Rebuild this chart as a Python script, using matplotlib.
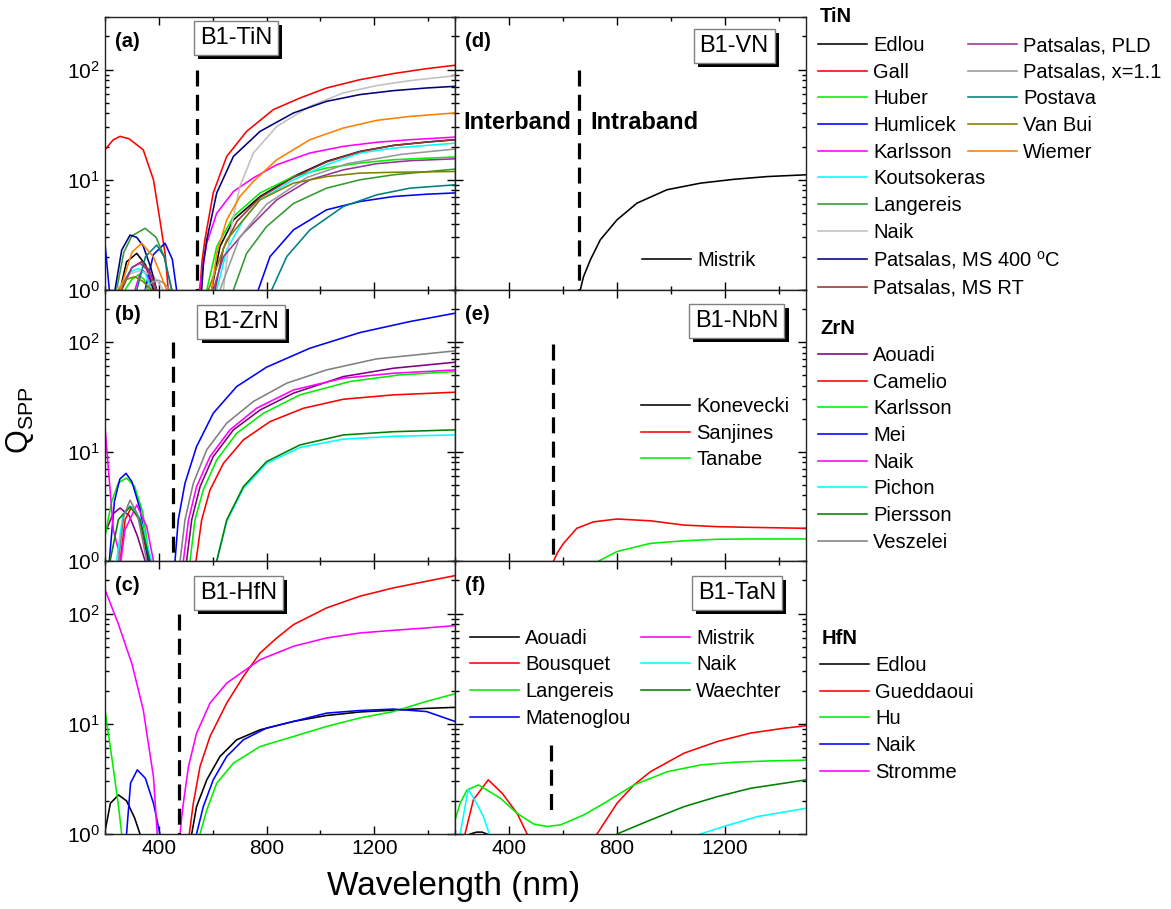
import matplotlib
matplotlib.use('Agg')
import matplotlib.pyplot as plt
import matplotlib.patheffects as pe
from matplotlib.ticker import MultipleLocator

plt.rcParams['font.family'] = ['Liberation Sans', 'DejaVu Sans']
plt.rcParams['mathtext.default'] = 'regular'

# ---------------- Panel (a): B1-TiN ----------------
a_edlou_wl = [256, 280, 318, 350, 380, 480, 596, 627, 677, 776, 900, 1023, 1147, 1271, 1395, 1500]
a_edlou_q = [1, 1.8, 2.15, 1.7, 1, 0.3, 1, 2.48, 4.33, 7.05, 10.7, 14.7, 18.1, 20.5, 22, 23.1]
a_gall_wl = [200, 230, 256, 290, 342, 380, 404, 423, 435, 490, 553, 560, 571, 602, 652, 726, 825, 924, 1023, 1147, 1271, 1395, 1500]
a_gall_q = [18.7, 23, 24.8, 23.5, 18.7, 10, 4.3, 2.15, 1.0, 0.3, 1.0, 1.8, 2.85, 7.6, 16.3, 27.5, 43.3, 55.2, 68.1, 81, 92, 102, 109.5]
a_huber_wl = [274, 300, 324, 345, 361, 470, 578, 615, 677, 776, 900, 1023, 1147, 1271, 1395, 1500]
a_huber_q = [1, 1.25, 1.37, 1.25, 1, 0.3, 1, 2.48, 4.64, 7.6, 10.7, 12.8, 14.2, 15.2, 15.7, 16.1]
a_humlicek_wl = [200, 216, 280, 349, 380, 423, 450, 466, 620, 769, 813, 900, 1023, 1147, 1271, 1395, 1500]
a_humlicek_q = [2.66, 1.0, 0.3, 1.0, 2.1, 2.66, 1.9, 1.0, 0.3, 1.0, 2.01, 3.51, 5.34, 6.35, 7.05, 7.4, 7.6]
a_karlsson_wl = [311, 330, 342, 355, 373, 460, 550, 578, 615, 677, 751, 838, 961, 1085, 1209, 1333, 1500]
a_karlsson_q = [1, 1.4, 1.5, 1.4, 1, 0.3, 1, 2.66, 4.98, 7.83, 10.4, 13.7, 17.5, 20.1, 21.9, 23.1, 24.4]
a_kouts_wl = [256, 290, 324, 350, 373, 500, 615, 652, 714, 776, 900, 1023, 1147, 1271, 1395, 1500]
a_kouts_q = [1, 1.45, 1.57, 1.4, 1, 0.3, 1, 2.31, 4.33, 6.58, 10, 13.7, 17.5, 19.4, 20.5, 21.5]
a_langereis_wl = [243, 270, 300, 349, 390, 420, 448, 560, 677, 726, 800, 900, 1023, 1147, 1271, 1500]
a_langereis_q = [1, 2.2, 3.1, 3.63, 3.0, 2.0, 1.0, 0.3, 1, 2.15, 3.76, 6.1, 8.4, 10, 11.1, 12.5]
a_naik_wl = [243, 290, 330, 380, 417, 530, 640, 664, 701, 751, 838, 961, 1085, 1209, 1333, 1500]
a_naik_q = [1, 1.4, 1.5, 1.35, 1, 0.3, 1, 3.27, 8.7, 17.5, 30.5, 46.4, 61.4, 71.6, 79.4, 88]
a_ms400_wl = [237, 262, 293, 318, 342, 370, 392, 480, 559, 566, 578, 615, 677, 776, 900, 1023, 1147, 1271, 1395, 1500]
a_ms400_q = [1, 2.3, 3.15, 3.0, 2.5, 1.6, 1.0, 0.3, 1, 1.8, 2.85, 7.6, 16.3, 27.5, 40.4, 51.5, 59.3, 64.4, 68.1, 70.5]
a_msrt_wl = [262, 300, 336, 365, 392, 500, 609, 640, 690, 776, 900, 1023, 1147, 1271, 1395, 1500]
a_msrt_q = [1, 1.6, 1.81, 1.5, 1, 0.3, 1, 2.4, 4.2, 6.9, 10.5, 14.5, 18, 20.5, 22, 23.1]
a_pld_wl = [256, 300, 330, 360, 386, 500, 602, 640, 714, 838, 961, 1085, 1209, 1333, 1500]
a_pld_q = [1, 1.6, 1.75, 1.5, 1, 0.3, 1, 2.01, 3.27, 6.58, 10, 12.3, 14.0, 14.9, 15.5]
a_x11_wl = [349, 375, 398, 420, 441, 530, 627, 700, 800, 950, 1100, 1300, 1500]
a_x11_q = [1, 1.18, 1.23, 1.15, 1, 0.3, 1, 3, 6, 10.5, 14, 17, 19]
a_postava_wl = [318, 350, 392, 420, 448, 630, 819, 875, 961, 1085, 1209, 1333, 1500]
a_postava_q = [1, 2.0, 2.56, 2.0, 1, 0.3, 1, 2.01, 3.51, 5.72, 7.3, 8.4, 9.0]
a_vanbui_wl = [250, 280, 311, 340, 373, 480, 584, 652, 776, 900, 1023, 1147, 1271, 1500]
a_vanbui_q = [1, 1.25, 1.32, 1.2, 1, 0.3, 1, 2.85, 6.58, 9.33, 10.7, 11.5, 11.7, 11.9]
a_wiemer_wl = [256, 300, 336, 380, 429, 510, 596, 615, 652, 701, 751, 838, 961, 1085, 1209, 1333, 1500]
a_wiemer_q = [1, 2.2, 2.66, 2.0, 1.0, 0.3, 1, 2.15, 4.33, 7.05, 9.66, 15.2, 23.1, 29.5, 34.6, 37.6, 40.4]

tin_labels = ['Edlou', 'Gall', 'Huber', 'Humlicek', 'Karlsson', 'Koutsokeras', 'Langereis', 'Naik',
              'Patsalas, MS 400 $^{o}$C', 'Patsalas, MS RT', 'Patsalas, PLD', 'Patsalas, x=1.1',
              'Postava', 'Van Bui', 'Wiemer']
tin_colors = ['#000000', '#ff0000', '#00ee00', '#0000ff', '#ff00ff', '#00ffff', '#339933', '#c0c0c0',
              '#000080', '#993333', '#993399', '#999999', '#008080', '#808000', '#ff8000']

# ---------------- Panel (b): B1-ZrN ----------------
b_aouadi_wl = [200, 230, 256, 290, 320, 349, 420, 503, 522, 553, 602, 677, 776, 900, 1085, 1271, 1500]
b_aouadi_q = [1.8, 2.7, 3.05, 2.6, 1.7, 1.0, 0.3, 1, 2.37, 4.78, 9.0, 15.8, 24.0, 34.2, 48.5, 57.8, 65.6]
b_camelio_wl = [256, 275, 299, 330, 361, 450, 538, 559, 590, 640, 714, 813, 937, 1085, 1271, 1500]
b_camelio_q = [1, 2.4, 3.13, 2.3, 1, 0.3, 1, 2.37, 4.46, 7.82, 12.8, 18.8, 24.9, 30.1, 33, 34.9]
b_karlsson_wl = [200, 225, 250, 280, 310, 340, 367, 440, 516, 534, 565, 615, 689, 788, 924, 1110, 1296, 1500]
b_karlsson_q = [1.7, 3.5, 5.2, 5.73, 4.8, 2.8, 1.0, 0.3, 1, 2.37, 4.46, 8.4, 14.7, 22.4, 33, 43.7, 50.3, 53.9]
b_mei_wl = [216, 235, 255, 278, 300, 330, 361, 410, 460, 472, 497, 540, 602, 689, 800, 961, 1147, 1333, 1500]
b_mei_q = [1, 3.5, 5.6, 6.33, 5.3, 3.0, 1.0, 0.3, 1, 2.37, 5.13, 11.1, 22.4, 39.3, 59.1, 88.1, 122.5, 154.5, 184]
b_naik_wl = [200, 219, 231, 250, 259, 274, 318, 355, 380, 440, 491, 510, 540, 590, 664, 763, 900, 1085, 1271, 1500]
b_naik_q = [16.8, 4.45, 1.92, 1.26, 1.0, 1.92, 3.25, 2.06, 1.0, 0.3, 1, 2.37, 4.78, 9.0, 15.8, 24.9, 36.6, 46.9, 52, 55.8]
b_pichon_wl = [243, 265, 293, 330, 373, 500, 615, 652, 714, 800, 924, 1085, 1271, 1500]
b_pichon_q = [1, 2.5, 3.2, 2.5, 1.0, 0.3, 1, 2.3, 4.6, 7.8, 10.9, 13.0, 13.8, 14.2]
b_piersson_wl = [219, 250, 293, 330, 367, 500, 615, 652, 714, 800, 924, 1085, 1271, 1500]
b_piersson_q = [1, 2.4, 3.13, 2.4, 1.0, 0.3, 1, 2.37, 4.78, 8.1, 11.5, 14.2, 15.2, 15.8]
b_veszelei_wl = [250, 270, 293, 320, 355, 420, 479, 497, 528, 578, 652, 751, 875, 1023, 1209, 1500]
b_veszelei_q = [1, 2.6, 3.6, 2.7, 1.0, 0.3, 1, 2.37, 5.13, 10.4, 18.2, 28.7, 42.2, 55.8, 70.4, 83.3]

zrn_labels = ['Aouadi', 'Camelio', 'Karlsson', 'Mei', 'Naik', 'Pichon', 'Piersson', 'Veszelei']
zrn_colors = ['#800080', '#ff0000', '#00ee00', '#0000ff', '#ff00ff', '#00ffff', '#008000', '#808080']

# ---------------- Panel (c): B1-HfN ----------------
c_edlou_wl = [200, 220, 250, 280, 310, 330, 430, 522, 540, 578, 627, 689, 776, 900, 1023, 1147, 1271, 1395, 1500]
c_edlou_q = [1.05, 1.9, 2.26, 2.0, 1.4, 1.0, 0.3, 1, 1.77, 3.1, 5.05, 7.16, 8.82, 10.5, 11.9, 12.8, 13.3, 13.8, 14.1]
c_gueddaoui_wl = [513, 528, 553, 590, 652, 714, 776, 838, 900, 1023, 1147, 1271, 1395, 1500]
c_gueddaoui_q = [1, 1.9, 4.1, 7.67, 15.4, 26.9, 43.9, 60.1, 79.4, 112.6, 143.8, 171, 196.7, 221]
c_hu_wl = [200, 225, 250, 262, 400, 553, 578, 615, 677, 776, 900, 1023, 1147, 1271, 1395, 1500]
c_hu_q = [13.4, 5, 1.8, 1.0, 0.3, 1, 1.65, 2.89, 4.39, 6.22, 7.67, 9.46, 11.3, 12.9, 16, 18.7]
c_naik_wl = [280, 295, 320, 350, 380, 404, 470, 540, 565, 602, 652, 714, 800, 900, 1023, 1147, 1271, 1395, 1500]
c_naik_q = [1, 2.9, 3.82, 3.2, 1.9, 1.0, 0.3, 1, 1.77, 3.1, 5.05, 7.16, 9.14, 10.5, 12.5, 13.2, 13.6, 12.9, 10.5]
c_stromme_wl = [200, 250, 300, 342, 380, 394, 440, 479, 485, 491, 510, 540, 590, 652, 776, 900, 1023, 1147, 1271, 1395, 1500]
c_stromme_q = [165, 80, 35, 13.4, 3.3, 1, 0.3, 1, 1.44, 1.9, 4.1, 8.2, 15.4, 23.4, 38.2, 50.5, 60.1, 66.7, 70.5, 74.1, 77.8]

hfn_labels = ['Edlou', 'Gueddaoui', 'Hu', 'Naik', 'Stromme']
hfn_colors = ['#000000', '#ff0000', '#00ee00', '#0000ff', '#ff00ff']

# ---------------- Panel (d): B1-VN ----------------
d_mistrik_wl = [664, 676, 701, 738, 800, 874, 985, 1109, 1233, 1357, 1500]
d_mistrik_q = [1, 1.32, 1.87, 2.85, 4.33, 6.14, 8.12, 9.32, 10.1, 10.7, 11.1]

# ---------------- Panel (e): B1-NbN ----------------
e_konevecki_wl = []
e_konevecki_q = []
e_sanjines_wl = [565, 580, 602, 651, 713, 800, 924, 1048, 1171, 1295, 1500]
e_sanjines_q = [1, 1.2, 1.45, 1.99, 2.28, 2.42, 2.33, 2.13, 2.06, 2.03, 1.99]
e_tanabe_wl = [732, 800, 924, 1048, 1171, 1295, 1500]
e_tanabe_q = [1, 1.22, 1.45, 1.53, 1.58, 1.59, 1.59]

nbn_labels = ['Konevecki', 'Sanjines', 'Tanabe']
nbn_colors = ['#000000', '#ff0000', '#00ee00']

# ---------------- Panel (f): B1-TaN ----------------
f_aouadi_wl = [256, 280, 300, 318]
f_aouadi_q = [1, 1.04, 1.04, 1]
f_bousquet_wl = [237, 268, 323, 375, 430, 467, 600, 726, 800, 863, 924, 1048, 1171, 1295, 1419, 1500]
f_bousquet_q = [1, 2.04, 3.1, 2.34, 1.54, 1, 0.3, 1, 1.9, 2.79, 3.68, 5.41, 6.9, 8.24, 9.12, 9.6]
f_langereis_wl = [200, 219, 244, 287, 368, 430, 492, 541, 591, 677, 752, 863, 987, 1111, 1235, 1359, 1500]
f_langereis_q = [1.34, 1.9, 2.5, 2.79, 2.11, 1.54, 1.23, 1.17, 1.21, 1.49, 1.9, 2.79, 3.68, 4.24, 4.48, 4.6, 4.68]
f_matenoglou_wl = []
f_matenoglou_q = []
f_mistrik_wl = []
f_mistrik_q = []
f_naik_wl = [219, 249, 280, 305, 327, 700, 1109, 1196, 1320, 1500]
f_naik_q = [1, 2.55, 1.9, 1.44, 1, 0.3, 1, 1.17, 1.44, 1.71]
f_waechter_wl = [800, 924, 1048, 1171, 1295, 1419, 1500]
f_waechter_q = [1, 1.34, 1.77, 2.18, 2.6, 2.89, 3.1]

tan_labels = ['Aouadi', 'Bousquet', 'Langereis', 'Matenoglou', 'Mistrik', 'Naik', 'Waechter']
tan_colors = ['#000000', '#ff0000', '#00ee00', '#0000ff', '#ff00ff', '#00ffff', '#008000']

# interband/intraband boundaries: wavelength, top Q, bottom Q
boundary_wl = [540, 454, 475, 658, 563, 557]
boundary_qtop = [100, 100, 100, 100, 97, 6.45]
boundary_qbot = [1, 1, 1, 1, 1, 1.44]

titles = ['B1-TiN', 'B1-ZrN', 'B1-HfN', 'B1-VN', 'B1-NbN', 'B1-TaN']
panel_tags = ['(a)', '(b)', '(c)', '(d)', '(e)', '(f)']

tin_series = [(a_edlou_wl, a_edlou_q), (a_gall_wl, a_gall_q), (a_huber_wl, a_huber_q),
              (a_humlicek_wl, a_humlicek_q), (a_karlsson_wl, a_karlsson_q), (a_kouts_wl, a_kouts_q),
              (a_langereis_wl, a_langereis_q), (a_naik_wl, a_naik_q), (a_ms400_wl, a_ms400_q),
              (a_msrt_wl, a_msrt_q), (a_pld_wl, a_pld_q), (a_x11_wl, a_x11_q),
              (a_postava_wl, a_postava_q), (a_vanbui_wl, a_vanbui_q), (a_wiemer_wl, a_wiemer_q)]
zrn_series = [(b_aouadi_wl, b_aouadi_q), (b_camelio_wl, b_camelio_q), (b_karlsson_wl, b_karlsson_q),
              (b_mei_wl, b_mei_q), (b_naik_wl, b_naik_q), (b_pichon_wl, b_pichon_q),
              (b_piersson_wl, b_piersson_q), (b_veszelei_wl, b_veszelei_q)]
hfn_series = [(c_edlou_wl, c_edlou_q), (c_gueddaoui_wl, c_gueddaoui_q), (c_hu_wl, c_hu_q),
              (c_naik_wl, c_naik_q), (c_stromme_wl, c_stromme_q)]
vn_series = [(d_mistrik_wl, d_mistrik_q)]
nbn_series = [(e_konevecki_wl, e_konevecki_q), (e_sanjines_wl, e_sanjines_q), (e_tanabe_wl, e_tanabe_q)]
tan_series = [(f_aouadi_wl, f_aouadi_q), (f_bousquet_wl, f_bousquet_q), (f_langereis_wl, f_langereis_q),
              (f_matenoglou_wl, f_matenoglou_q), (f_mistrik_wl, f_mistrik_q), (f_naik_wl, f_naik_q),
              (f_waechter_wl, f_waechter_q)]

W, H = 1171, 909
fig = plt.figure(figsize=(W / 100, H / 100), dpi=100)

def fx(px):
    return px / W

def fy(py):
    return 1 - py / H

col_x = [105, 455]
col_w = [350, 351]
row_top = [17, 290, 561]
row_bot = [290, 561, 834]

axes = {}
for ci in range(2):
    for ri in range(3):
        ax = fig.add_axes([fx(col_x[ci]), fy(row_bot[ri]), col_w[ci] / W, (row_bot[ri] - row_top[ri]) / H])
        axes[(ri, ci)] = ax

panel_axes = [axes[(0, 0)], axes[(1, 0)], axes[(2, 0)], axes[(0, 1)], axes[(1, 1)], axes[(2, 1)]]
panel_data = [(tin_series, tin_labels, tin_colors), (zrn_series, zrn_labels, zrn_colors),
              (hfn_series, hfn_labels, hfn_colors), (vn_series, ['Mistrik'], ['#000000']),
              (nbn_series, nbn_labels, nbn_colors), (tan_series, tan_labels, tan_colors)]

title_pos = [(0.374, 0.923), (0.389, 0.882), (0.381, 0.883), (0.795, 0.894), (0.803, 0.886), (0.803, 0.884)]

handles_all = []
for k, ax in enumerate(panel_axes):
    series, labels, colors = panel_data[k]
    hs = []
    for (wl, q), lab, col in zip(series, labels, colors):
        h, = ax.plot(wl, q, color=col, lw=1.15, label=lab)
        hs.append(h)
    handles_all.append(hs)
    ax.plot([boundary_wl[k], boundary_wl[k]], [boundary_qtop[k], boundary_qbot[k]],
            color='black', lw=2.3, dashes=(5, 2.6), solid_capstyle='butt', dash_capstyle='butt')
    ax.set_yscale('log')
    ax.set_ylim(1, 300)
    ax.set_xlim(200, 1500)
    ax.xaxis.set_major_locator(MultipleLocator(400))
    ax.xaxis.set_minor_locator(MultipleLocator(200))
    ax.tick_params(which='both', direction='in', top=True, right=True, labelsize=15, width=1)
    ax.tick_params(which='major', length=6)
    ax.tick_params(which='minor', length=3)
    for s in ax.spines.values():
        s.set_linewidth(1.0)
        s.set_color('#222222')
    ax.text(0.028, 0.945, panel_tags[k], transform=ax.transAxes, fontsize=14.5,
            fontweight='bold', ha='left', va='top')
    t = ax.text(title_pos[k][0], title_pos[k][1], titles[k], transform=ax.transAxes,
                fontsize=17, ha='center', va='center', zorder=10,
                bbox=dict(boxstyle='square,pad=0.25', fc='white', ec='#808080', lw=1.0))
    t.get_bbox_patch().set_path_effects([pe.withSimplePatchShadow(offset=(3, -3), shadow_rgbFace='black', alpha=1.0)])

for ri in range(3):
    for ci in range(2):
        ax = axes[(ri, ci)]
        if ri < 2:
            ax.tick_params(labelbottom=False)
        if ci == 1:
            ax.tick_params(labelleft=False)

# Interband / Intraband annotation
axd = axes[(0, 1)]
axd.text(0.023, 0.615, 'Interband', transform=axd.transAxes, fontsize=17, fontweight='bold', ha='left', va='center')
axd.text(0.385, 0.615, 'Intraband', transform=axd.transAxes, fontsize=17, fontweight='bold', ha='left', va='center')

leg_kw = dict(frameon=False, fontsize=14.5, handlelength=2.44, handletextpad=0.3,
              labelspacing=0.38, borderpad=0, borderaxespad=0)

# in-panel legends
axd.legend(handles=handles_all[3], loc='upper left', bbox_to_anchor=(0.533, 0.143), **leg_kw)
axe = axes[(1, 1)]
axe.legend(handles=handles_all[4], loc='upper left', bbox_to_anchor=(0.530, 0.605), **leg_kw)
axf = axes[(2, 1)]
axf.legend(handles=handles_all[5], loc='upper left', bbox_to_anchor=(0.043, 0.752), ncol=2,
           columnspacing=0.5, **leg_kw)

# side legends
fig.text(fx(820), fy(17), 'TiN', fontsize=14.5, fontweight='bold', ha='left', va='center')
l1 = fig.legend(handles=handles_all[0][:10], loc='upper left', bbox_to_anchor=(fx(818), fy(36)), **leg_kw)
l2 = fig.legend(handles=handles_all[0][10:], loc='upper left', bbox_to_anchor=(fx(968), fy(36)), **leg_kw)
fig.text(fx(820), fy(328), 'ZrN', fontsize=14.5, fontweight='bold', ha='left', va='center')
l3 = fig.legend(handles=handles_all[1], loc='upper left', bbox_to_anchor=(fx(818), fy(346)), **leg_kw)
fig.text(fx(822), fy(638), 'HfN', fontsize=14.5, fontweight='bold', ha='left', va='center')
l4 = fig.legend(handles=handles_all[2], loc='upper left', bbox_to_anchor=(fx(820), fy(656)), **leg_kw)

fig.text(fx(20), fy(420), 'Q$_{SPP}$', fontsize=22, rotation=90, ha='center', va='center')
fig.text(fx(454), fy(886), 'Wavelength (nm)', fontsize=24, ha='center', va='center')

fig.savefig('out.png', dpi=100)
